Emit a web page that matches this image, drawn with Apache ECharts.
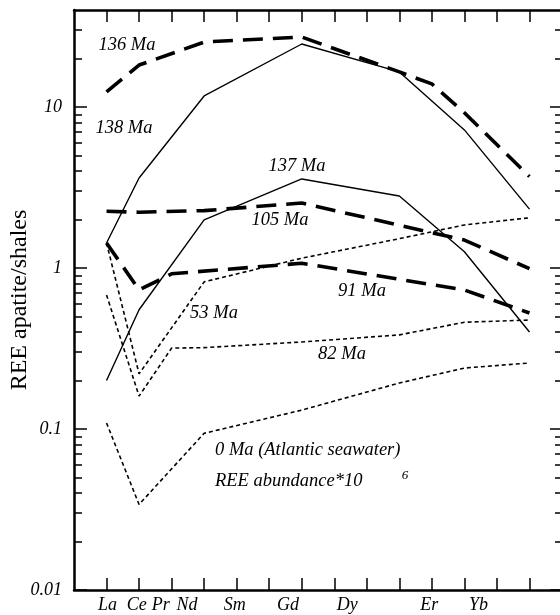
<!DOCTYPE html>
<html><head><meta charset="utf-8">
<script src="https://cdn.jsdelivr.net/npm/echarts@6/dist/echarts.min.js"></script>
<style>html,body{margin:0;padding:0;background:#fff}#c{width:560px;height:615px}</style>
</head><body><div id="c"></div>
<script>
// Tick positions along the x axis (1..14)
const elements = ['La','Ce','Pr','Nd','Sm','Eu','Gd','Tb','Dy','Ho','Er','Tm','Yb','Lu'];
// Printed x-axis labels
const xLabelNames = ['La','Ce','Pr','Nd','Sm','Gd','Dy','Er','Yb'];
// y-axis ticks
const yMajorTicks = [0.01, 0.1, 1, 10];
const yMinorTicks = [0.02,0.03,0.04,0.05,0.06,0.07,0.08,0.09,
                     0.2,0.3,0.4,0.5,0.6,0.7,0.8,0.9,
                     2,3,4,5,6,7,8,9,20,30];

// Series values (null = no point at that tick)
const ma136 = [12.4, 18.2, null, 25.3, null, null, 27.2, null, null, 16.5, 13.9, 9.2, null, 3.7];
const ma138 = [1.43, 3.62, null, 11.7, null, null, 24.6, null, null, 16.5, null, 7.2, null, 2.32];
const ma137 = [0.20, 0.55, null, 1.99, null, null, 3.57, null, null, 2.80, null, 1.26, null, 0.40];
const ma105 = [2.25, 2.22, null, 2.27, null, null, 2.53, null, null, null, null, 1.49, null, 0.99];
const ma91  = [1.43, 0.73, 0.92, null, null, null, 1.07, null, null, 0.85, null, 0.73, null, 0.525];
const ma53  = [1.43, 0.22, null, 0.82, null, null, 1.15, null, null, 1.52, null, 1.85, null, 2.05];
const ma82  = [0.68, 0.16, 0.318, 0.32, null, null, 0.347, null, null, 0.384, null, 0.46, null, 0.475];
const ma0   = [0.109, 0.034, null, 0.094, null, null, 0.131, null, null, 0.193, null, 0.239, null, 0.257];

// layout: where the printed labels sit along the x axis
const xLabelPos = [1.03, 1.93, 2.67, 3.47, 4.94, 6.58, 8.40, 10.92, 12.43];

const FONT = 'Liberation Serif';
const toPairs = arr => arr.map((v, i) => v == null ? null : [i + 1, v]).filter(p => p);
const xTickVals = elements.map((e, i) => i + 1);

const thickDash = {width: 3.6, type: [20, 10], color: '#000', cap: 'butt'};
const thinSolid = {width: 1.4, type: 'solid', color: '#000'};
const dotted = {width: 1.6, type: [4, 3], color: '#000', cap: 'butt'};

function line(name, arr, style) {
  return {name, type: 'line', data: toPairs(arr), symbol: 'none', lineStyle: style,
          xAxisIndex: 0, yAxisIndex: 0, animation: false, z: 3};
}

const axisLineStyle = {color: '#000', width: 2.5};
const tickStyle = {color: '#000', width: 1.5};

function xAx(pos, labels) {
  return {
    type: 'value', position: pos, min: 0, max: 15, interval: 1,
    axisLine: {show: true, onZero: false, lineStyle: axisLineStyle},
    axisTick: {show: true, inside: true, length: 12, lineStyle: tickStyle, customValues: xTickVals},
    axisLabel: labels ? {
      show: true, customValues: xLabelPos, margin: 6,
      fontFamily: FONT, fontStyle: 'italic', fontSize: 18, color: '#000',
      formatter: v => {
        let best = 0, bd = 1e9;
        xLabelPos.forEach((p, i) => { const d = Math.abs(p - v); if (d < bd) { bd = d; best = i; } });
        return xLabelNames[best];
      }
    } : {show: false},
    splitLine: {show: false}
  };
}
function yAx(pos, major, withLine, labels, len) {
  return {
    type: 'log', logBase: 10, position: pos, min: 0.01, max: 40,
    axisLine: {show: withLine, onZero: false, lineStyle: axisLineStyle},
    axisTick: {show: true, inside: true, length: len, lineStyle: tickStyle,
               customValues: major ? yMajorTicks : yMinorTicks},
    axisLabel: labels ? {
      show: true, customValues: yMajorTicks, margin: 12,
      fontFamily: FONT, fontStyle: 'italic', fontSize: 18, color: '#000',
      formatter: v => String(parseFloat(Number(v).toPrecision(3)))
    } : {show: false},
    splitLine: {show: false}, minorTick: {show: false}
  };
}

const yMainLeft = yAx('left', true, true, true, 13);
yMainLeft.name = 'REE apatite/shales';
yMainLeft.nameLocation = 'middle';
yMainLeft.nameRotate = 90;
yMainLeft.nameGap = 42;
yMainLeft.nameMoveOverlap = false;
yMainLeft.nameTextStyle = {fontFamily: FONT, fontSize: 24, color: '#000'};

const ann = (text, x, y, size, align) => ({
  type: 'text', x, y, z: 10,
  style: {text, fill: '#000', font: 'italic ' + (size || 18.5) + 'px "' + FONT + '"',
          align: align || 'center', verticalAlign: 'middle'}
});

const chart = echarts.init(document.getElementById('c'), null, {renderer: 'canvas'});
chart.setOption({
  backgroundColor: '#fff',
  animation: false,
  grid: {left: 74, right: -2, top: 10, bottom: 25, containLabel: false, outerBoundsMode: 'none'},
  xAxis: [xAx('bottom', true), xAx('top', false)],
  yAxis: [
    yMainLeft,
    yAx('left', false, false, false, 8),
    yAx('right', true, true, false, 12),
    yAx('right', false, false, false, 7)
  ],
  series: [
    line('136 Ma', ma136, thickDash),
    line('138 Ma', ma138, thinSolid),
    line('137 Ma', ma137, thinSolid),
    line('105 Ma', ma105, thickDash),
    line('91 Ma', ma91, thickDash),
    line('53 Ma', ma53, dotted),
    line('82 Ma', ma82, dotted),
    line('0 Ma', ma0, dotted)
  ],
  graphic: [
    ann('136 Ma', 127, 45),
    ann('138 Ma', 124, 128),
    ann('137 Ma', 297, 166),
    ann('105 Ma', 280, 220),
    ann('91 Ma', 362, 291),
    ann('53 Ma', 214, 313),
    ann('82 Ma', 342, 354),
    ann('0 Ma (Atlantic seawater)', 215, 450, 18.5, 'left'),
    ann('REE abundance*10', 215, 481, 18.5, 'left'),
    ann('6', 405, 476, 13)
  ]
});
</script></body></html>
